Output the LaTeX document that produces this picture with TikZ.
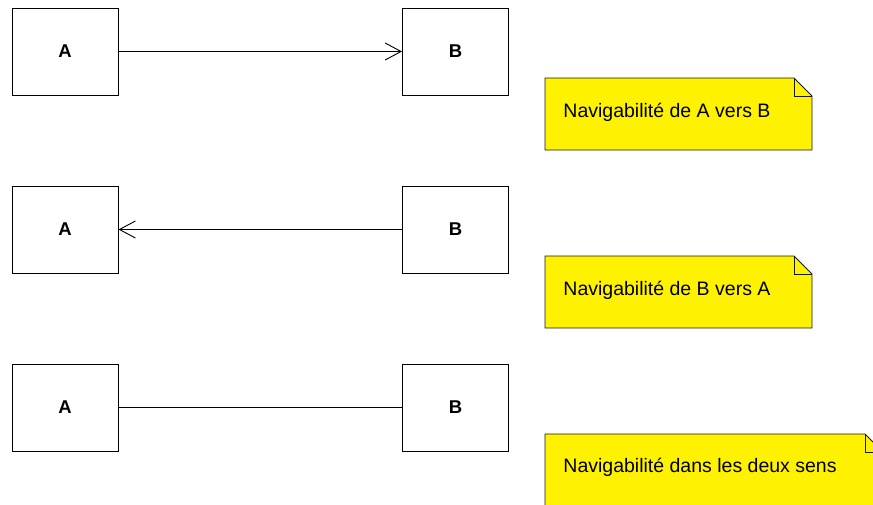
\documentclass[tikz,border=0pt]{standalone}
\usepackage{fontspec}
\setmainfont{Liberation Sans}
\usepackage{tikz}
\usetikzlibrary{arrows.meta}

\begin{document}
\begin{tikzpicture}[x=1pt,y=-1pt,line width=0.9pt,
    classbox/.style={draw,minimum width=106pt,minimum height=87pt,inner sep=0pt,font=\fontsize{18.5}{21}\selectfont\bfseries},
    notetext/.style={anchor=base west,inner sep=0pt,font=\fontsize{19.5}{22}\selectfont},
    nav/.style={-{Straight Barb[length=16pt,width=17pt,line width=0.9pt]}}]
  \useasboundingbox (0,0) rectangle (873,504);
  % --- A vers B ---
  \begin{scope}
    \node[classbox] (a1) at (65,51.5) {A};
    \node[classbox] (b1) at (455.5,51.5) {B};
    \draw[nav] (a1) -- (b1);
    \filldraw[fill=yellow,draw=black!90] (545,78) -- (794,78) -- (812,96) -- (812,150) -- (545,150) -- cycle;
    \draw[draw=black!90] (794,78) -- (794,96) -- (812,96);
    \node[notetext] (n1) at (563,117) {Navigabilité de A vers B};
  \end{scope}
  % --- B vers A ---
  \begin{scope}[yshift=-178pt]
    \node[classbox] (a2) at (65,51.5) {A};
    \node[classbox] (b2) at (455.5,51.5) {B};
    \draw[nav] (b2) -- (a2);
    \filldraw[fill=yellow,draw=black!90] (545,78) -- (794,78) -- (812,96) -- (812,150) -- (545,150) -- cycle;
    \draw[draw=black!90] (794,78) -- (794,96) -- (812,96);
    \node[notetext] (n2) at (563,117) {Navigabilité de B vers A};
  \end{scope}
  % --- deux sens ---
  \begin{scope}[yshift=-356pt]
    \node[classbox] (a3) at (65,51.5) {A};
    \node[classbox] (b3) at (455.5,51.5) {B};
    \draw (a3) -- (b3);
    \filldraw[fill=yellow,draw=black!90] (545,78) -- (865,78) -- (883,96) -- (883,150) -- (545,150) -- cycle;
    \draw[draw=black!90] (865,78) -- (865,96) -- (883,96);
    \node[notetext] (n3) at (563,116) {Navigabilité dans les deux sens};
  \end{scope}
\end{tikzpicture}
\end{document}
